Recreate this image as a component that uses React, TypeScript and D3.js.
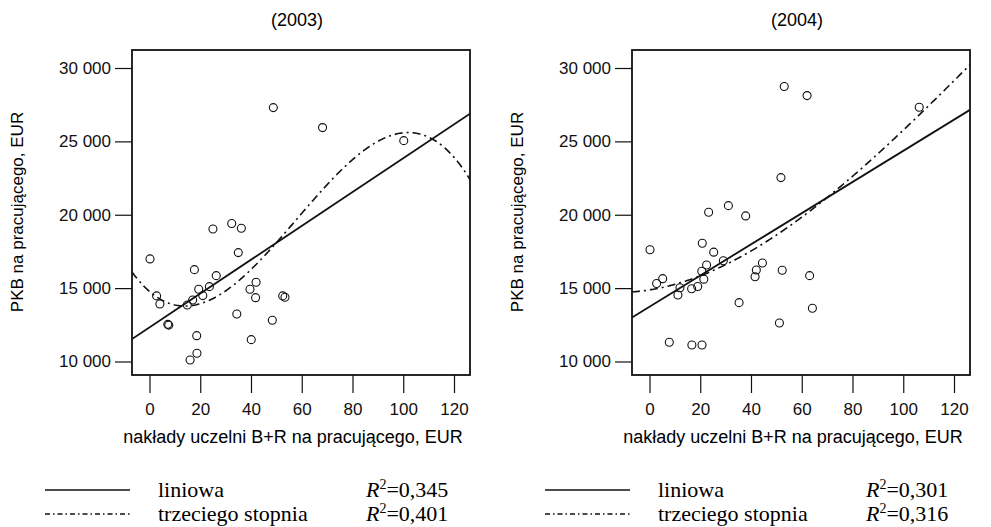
import React, { useEffect, useRef } from "react";
import * as d3 from "d3";

// Observations: R&D spending of universities per worker (EUR) vs GDP per worker (EUR)
const x2003 = [48.8, 68.2, 100.2, 0.2, 25, 32.4, 36.2, 35, 17.7, 26.3, 19.4, 23.6, 2.8, 4.1, 14.9, 17, 21, 39.6, 42, 41.8, 52.5, 53.4, 7.2, 7.6, 34.4, 48.4, 18.6, 40.1, 18.7, 16];
const y2003 = [27300, 25940, 25050, 16990, 19030, 19400, 19080, 17420, 16260, 15850, 14920, 15100, 14470, 13920, 13850, 14190, 14490, 14920, 15400, 14350, 14470, 14380, 12530, 12480, 13240, 12810, 11760, 11490, 10560, 10100];

const x2004 = [53.1, 62.1, 106.3, 51.8, 0.2, 23.3, 31.1, 37.9, 20.8, 25.3, 22.5, 29.1, 44.5, 42.1, 41.6, 20.6, 21.4, 52.3, 63.1, 2.8, 5.2, 12, 16.6, 19, 11.2, 35.3, 64.2, 51.2, 7.8, 16.7, 20.7];
const y2004 = [28740, 28120, 27330, 22530, 17620, 20170, 20620, 19920, 18060, 17450, 16580, 16870, 16710, 16240, 15780, 16150, 15610, 16220, 15850, 15315, 15645, 15030, 14955, 15110, 14534, 14010, 13630, 12625, 11310, 11125, 11125];

// Fitted trend coefficients (a + b x + c x^2 + d x^3)
const linear2003 = [12320, 115.3];
const cubic2003 = [14773, -148.6, 6.036, -0.03469];
const linear2004 = [13735, 106.2];
const cubic2004 = [14880, 27.34, 1.079, -0.002643];

const r2Linear = ["0,345", "0,301"];
const r2Cubic = ["0,401", "0,316"];
const years = ["(2003)", "(2004)"];

const xTicks = [0, 20, 40, 60, 80, 100, 120];
const yTicks = [10000, 15000, 20000, 25000, 30000];
const yTickLabels = ["10 000", "15 000", "20 000", "25 000", "30 000"];

const SANS = "'Liberation Sans', Arial, sans-serif";
const SERIF = "'Liberation Serif', 'Times New Roman', serif";
const INK = "#111";

const panels = [
  { ox: 0, title: years[0], xs: x2003, ys: y2003, lin: linear2003, cub: cubic2003, r2l: r2Linear[0], r2c: r2Cubic[0] },
  { ox: 500, title: years[1], xs: x2004, ys: y2004, lin: linear2004, cub: cubic2004, r2l: r2Linear[1], r2c: r2Cubic[1] },
];

const poly = (coef: number[], x: number) =>
  coef.reduce((s, c, i) => s + c * Math.pow(x, i), 0);

export default function App() {
  const ref = useRef<SVGSVGElement | null>(null);

  useEffect(() => {
    const svg = d3.select(ref.current);
    svg.selectAll("*").remove();
    svg.append("rect").attr("width", 991).attr("height", 527).attr("fill", "#fff");

    panels.forEach((p, pi) => {
      const { ox } = p;
      const box = { l: 132 + ox, r: 470 + ox, t: 50, b: 375 };
      const x = d3.scaleLinear().domain([0, 120]).range([149.5 + ox, 454 + ox]);
      const y = d3.scaleLinear().domain([10000, 30000]).range([361.5, 68]);
      const x0 = x.invert(box.l);
      const x1 = x.invert(box.r);
      const g = svg.append("g");
      const clipId = "clip-" + pi;

      g.append("clipPath")
        .attr("id", clipId)
        .append("rect")
        .attr("x", box.l)
        .attr("y", box.t)
        .attr("width", box.r - box.l)
        .attr("height", box.b - box.t);

      g.append("text")
        .attr("x", 297 + ox)
        .attr("y", 26)
        .attr("text-anchor", "middle")
        .attr("font-family", SANS)
        .attr("font-size", 18)
        .text(p.title);

      // y axis
      const yAxis = g
        .append("g")
        .attr("transform", `translate(${box.l},0)`)
        .call(
          d3
            .axisLeft(y)
            .tickValues(yTicks)
            .tickSize(17)
            .tickPadding(4)
            .tickFormat((_, i) => yTickLabels[i])
        );
      yAxis.select(".domain").remove();
      yAxis.selectAll("line").attr("stroke", INK).attr("stroke-width", 1.2);
      yAxis.selectAll("text").attr("font-family", SANS).attr("font-size", 17).attr("fill", INK);

      // x axis
      const xAxis = g
        .append("g")
        .attr("transform", `translate(0,${box.b})`)
        .call(d3.axisBottom(x).tickValues(xTicks).tickSize(18).tickPadding(10));
      xAxis.select(".domain").remove();
      xAxis.selectAll("line").attr("stroke", INK).attr("stroke-width", 1.2);
      xAxis.selectAll("text").attr("font-family", SANS).attr("font-size", 17).attr("fill", INK);

      // frame
      g.append("rect")
        .attr("x", box.l)
        .attr("y", box.t)
        .attr("width", box.r - box.l)
        .attr("height", box.b - box.t)
        .attr("fill", "none")
        .attr("stroke", INK)
        .attr("stroke-width", 1.8);

      g.append("text")
        .attr("transform", `translate(${23 + ox},212) rotate(-90)`)
        .attr("text-anchor", "middle")
        .attr("font-family", SANS)
        .attr("font-size", 17)
        .text("PKB na pracującego, EUR");

      g.append("text")
        .attr("x", 293 + ox)
        .attr("y", 443)
        .attr("text-anchor", "middle")
        .attr("font-family", SANS)
        .attr("font-size", 18)
        .text("nakłady uczelni B+R na pracującego, EUR");

      const fits = g.append("g").attr("clip-path", `url(#${clipId})`);
      const lin = d3
        .line<number>()
        .x((v) => x(v))
        .y((v) => y(poly(p.lin, v)));
      const cub = d3
        .line<number>()
        .x((v) => x(v))
        .y((v) => y(poly(p.cub, v)));
      fits.append("path")
        .attr("d", lin([x0, x1]))
        .attr("fill", "none")
        .attr("stroke", INK)
        .attr("stroke-width", 1.8);
      fits.append("path")
        .attr("d", cub(d3.range(x0, x1, 0.5).concat([x1])))
        .attr("fill", "none")
        .attr("stroke", INK)
        .attr("stroke-width", 1.6)
        .attr("stroke-dasharray", "8,4,2,4");

      g.selectAll("circle.pt")
        .data(p.xs)
        .join("circle")
        .attr("class", "pt")
        .attr("cx", (v) => x(v))
        .attr("cy", (_, i) => y(p.ys[i]))
        .attr("r", 4)
        .attr("fill", "none")
        .attr("stroke", INK)
        .attr("stroke-width", 1.1);

      // legend
      g.append("line")
        .attr("x1", 45 + ox).attr("x2", 130 + ox)
        .attr("y1", 490).attr("y2", 490)
        .attr("stroke", INK).attr("stroke-width", 1.5);
      g.append("line")
        .attr("x1", 45 + ox).attr("x2", 130 + ox)
        .attr("y1", 514).attr("y2", 514)
        .attr("stroke", INK).attr("stroke-width", 1.3)
        .attr("stroke-dasharray", "5,3,1.5,3");
      ["liniowa", "trzeciego stopnia"].forEach((label, i) => {
        g.append("text")
          .attr("x", 158 + ox)
          .attr("y", 497 + i * 24)
          .attr("font-family", SERIF)
          .attr("font-size", 22)
          .text(label);
      });
      [p.r2l, p.r2c].forEach((r, i) => {
        const t = g.append("text")
          .attr("x", 366 + ox)
          .attr("y", 497 + i * 24)
          .attr("font-family", SERIF)
          .attr("font-size", 22);
        t.append("tspan").attr("font-style", "italic").text("R");
        t.append("tspan").attr("dy", -8).attr("font-size", 14).text("2");
        t.append("tspan").attr("dy", 8).text("=" + r);
      });
    });
  }, []);

  return (
    <svg
      ref={ref}
      width={991}
      height={527}
      style={{ position: "absolute", left: 0, top: 0, background: "#fff" }}
    />
  );
}
